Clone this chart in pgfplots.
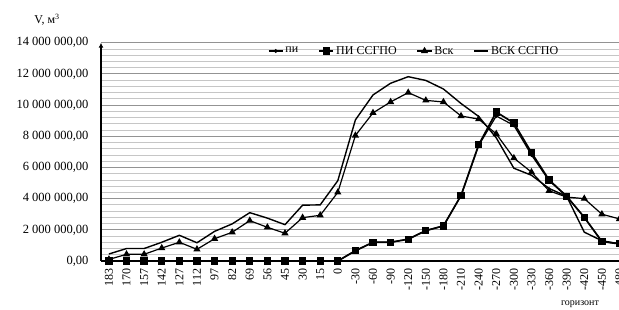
\documentclass[border=0pt]{standalone}
\usepackage{fontspec}
\setmainfont{Liberation Serif}
\usepackage{pgfplots}
\pgfplotsset{compat=1.18}
\usetikzlibrary{arrows.meta}

\pgfplotstableread{
idx pi pissgpo vsk vskssgpo
0   0        0        100000   450000
1   0        0        430000   800000
2   0        0        430000   800000
3   0        0        830000   1200000
4   0        0        1200000  1650000
5   0        0        750000   1170000
6   0        0        1430000  1900000
7   0        0        1840000  2380000
8   0        0        2590000  3100000
9   0        0        2160000  2750000
10  0        0        1780000  2330000
11  0        0        2780000  3580000
12  0        0        2930000  3600000
13  0        0        4400000  5150000
14  660000   660000   8050000  9050000
15  1200000  1200000  9500000  10650000
16  1200000  1200000  10200000 11400000
17  1400000  1400000  10800000 11820000
18  1950000  1950000  10300000 11580000
19  2250000  2250000  10200000 11030000
20  4200000  4200000  9300000  10100000
21  7400000  7450000  9100000  9270000
22  9300000  9550000  8150000  7900000
23  8700000  8850000  6600000  5950000
24  6800000  6950000  5700000  5500000
25  5150000  5200000  4500000  4650000
26  4150000  4150000  4100000  4150000
27  2800000  2800000  4000000  1850000
28  1250000  1250000  3000000  1300000
29  1100000  1100000  2700000  1100000
}\datatable

\begin{document}
\begin{tikzpicture}
\begin{axis}[
  scale only axis, width=518.5pt, height=218.3pt,
  at={(101pt,48pt)}, anchor=south west,
  xmin=-0.45, xmax=29, ymin=0, ymax=14000000,
  axis x line=bottom, axis y line=left,
  x axis line style={-, line width=1.4pt},
  y axis line style={-{Latex[length=5pt,width=5pt]}, line width=1.4pt},
  xtick={0,...,29},
  xticklabels={183,170,157,142,127,112,97,82,69,56,45,30,15,0,-30,-60,-90,-120,-150,-180,-210,-240,-270,-300,-330,-360,-390,-420,-450,-480},
  xticklabel style={rotate=90, anchor=east, xshift=-4pt, font=\fontsize{12}{14}\selectfont},
  ytick={0,2000000,4000000,6000000,8000000,10000000,12000000,14000000},
  yticklabels={{0,00},{2 000 000,00},{4 000 000,00},{6 000 000,00},{8 000 000,00},{10 000 000,00},{12 000 000,00},{14 000 000,00}},
  yticklabel style={xshift=-9pt, font=\fontsize{12.5}{14}\selectfont},
  scaled y ticks=false,
  minor y tick num=4,
  ymajorgrids, yminorgrids,
  major grid style={gray!85, line width=0.8pt},
  minor grid style={gray!45, line width=0.8pt},
  major tick length=0pt, minor tick length=0pt,
  legend columns=4,
  legend style={at={(0.604,0.962)}, anchor=center, draw=none, fill=none,
    font=\fontsize{12}{14}\selectfont,
    /tikz/every even column/.append style={column sep=18pt}},
  legend image code/.code={\draw[mark repeat=2,mark phase=2] plot coordinates {(0cm,0cm) (0.25cm,0cm) (0.5cm,0cm)};},
  every axis plot/.append style={black},
]
\addplot[line width=1.2pt, mark=*, mark size=1.3pt] table[x=idx,y=pi] {\datatable};
\addlegendentry{пи}
\addplot[line width=1.7pt, mark=square*, mark size=2.8pt] table[x=idx,y=pissgpo] {\datatable};
\addlegendentry{ПИ ССГПО}
\addplot[line width=1.2pt, mark=triangle*, mark size=3pt] table[x=idx,y=vsk] {\datatable};
\addlegendentry{Вск}
\addplot[line width=1.4pt] table[x=idx,y=vskssgpo] {\datatable};
\addlegendentry{ВСК ССГПО}
\end{axis}
\node[font=\fontsize{12}{14}\selectfont] at (47pt,289pt) {V, м\textsuperscript{3}};
\node[font=\fontsize{10}{12}\selectfont] at (580pt,5pt) {горизонт};
\pgfresetboundingbox
\useasboundingbox (0,0) rectangle (619pt,309pt);
\end{tikzpicture}
\end{document}
